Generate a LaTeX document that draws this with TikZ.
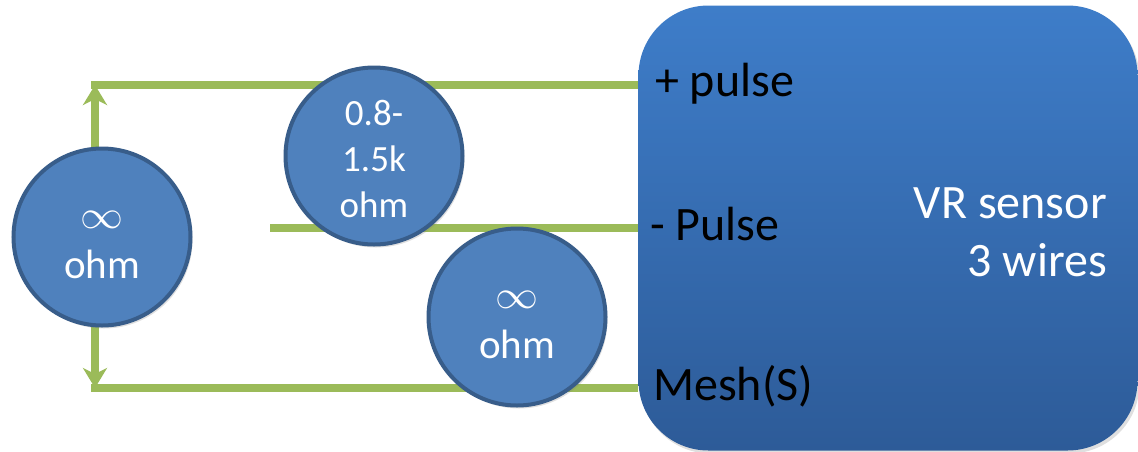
\documentclass[tikz,border=0pt]{standalone}
\usepackage{fontspec}
\setmainfont{Carlito}
\usetikzlibrary{arrows.meta,shadows}

\definecolor{wiregreen}{RGB}{155,187,89}
\definecolor{resfill}{RGB}{79,129,189}
\definecolor{resline}{RGB}{56,93,138}
\definecolor{boxtop}{RGB}{62,125,201}
\definecolor{boxbot}{RGB}{45,91,152}

\newcommand{\infsym}{\rule{0pt}{34pt}\scalebox{4.3}[4]{\fontsize{10}{12}\selectfont$\infty$}}

\tikzset{
	wire/.style={wiregreen,line width=8pt},
	res/.style={circle,fill=resfill,draw=resline,line width=4pt,minimum size=177pt,inner sep=0pt,
		text=white,align=center,font=\fontsize{41}{50}\selectfont,
		drop shadow={opacity=0.25,shadow xshift=2pt,shadow yshift=-3pt}},
	sensorbox/.style={rectangle,rounded corners=70pt,top color=boxtop,bottom color=boxbot,
		minimum width=499pt,minimum height=445pt,
		drop shadow={opacity=0.25,shadow xshift=2pt,shadow yshift=-3pt}},
	pin/.style={anchor=base west,inner sep=0pt,font=\fontsize{48}{58}\selectfont},
	vrtext/.style={anchor=base east,inner sep=0pt,text=white,font=\fontsize{48}{58}\selectfont},
}

\begin{document}
\begin{tikzpicture}[x=1pt,y=-1pt]
	\useasboundingbox (0,0) rectangle (1138,451);
	\coordinate (tl) at (95,85);
	\coordinate (bl) at (95,388);
	\coordinate (ml) at (270,228);
	% sensor
	\node[sensorbox] (sensor) at (888,228) {};
	\node[pin] (plus) at (655,96) {+ pulse};
	\node[pin] (minus) at (650,240) {- Pulse};
	\node[pin] (mesh) at (653,400) {Mesh(S)};
	\node[vrtext] (vr) at (1107,218) {VR sensor};
	\node[vrtext] (wires) at (1107,276) {3 wires};
	% wires
	\draw[wire] ([xshift=-4pt]tl) -- (tl -| sensor.west);
	\draw[wire] (ml) -- (ml -| sensor.west);
	\draw[wire] ([xshift=-4pt]bl) -- (bl -| sensor.west);
	\draw[wire,{Stealth[length=20pt,width=24pt,inset=6pt]}-{Stealth[length=20pt,width=24pt,inset=6pt]}] (tl) -- (bl);
	% resistances
	\node[res] (rleft) at (102,237) {\infsym\\ohm};
	\node[res,font=\fontsize{37}{46}\selectfont] (rpm) at (374,156) {\rule{0pt}{31pt}0.8-\\1.5k\\ohm};
	\node[res] (rmesh) at (517,317) {\infsym\\ohm};
\end{tikzpicture}
\end{document}
